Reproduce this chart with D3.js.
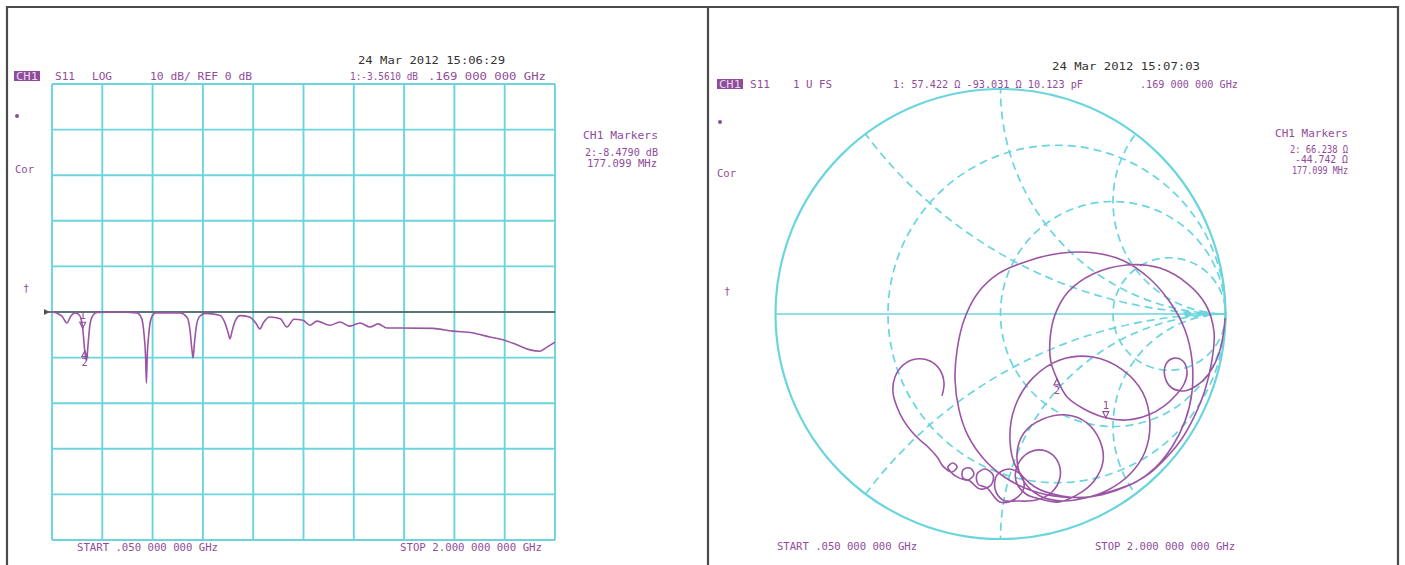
<!DOCTYPE html>
<html><head><meta charset="utf-8">
<script src="https://cdn.jsdelivr.net/npm/d3@7"></script>
<style>
body{margin:0;background:#fff;}
svg{display:block;}
text{font-family:"DejaVu Sans Mono",monospace;font-size:10.5px;}
</style>
</head><body>
<svg id="c" width="1405" height="565"></svg>
<script>
// ---- Channel 1, S11 log magnitude sweep ----
const freqGHz = [0.050,0.070,0.090,0.108,0.122,0.140,0.155,0.163,0.169,0.177,0.184,0.190,0.197,0.207,0.225,
  0.300,0.380,0.398,0.407,0.413,0.416,0.419,0.425,0.434,0.452,0.545,0.574,0.585,0.592,0.597,0.602,0.610,0.622,
  0.645,0.700,0.722,0.733,0.740,0.748,0.760,0.780,0.815,0.840,0.856,0.870,0.895,0.935,0.961,0.988,1.023,1.050,
  1.077,1.128,1.166,1.205,1.244,1.283,1.314,1.348,1.400,1.527,1.604,1.682,1.748,1.798,1.852,1.903,1.941,1.969,2.000];
const s11dB = [0,-0.3,-1.0,-2.4,-1.0,-0.2,-0.6,-1.6,-3.561,-8.479,-10.6,-7.0,-2.8,-0.9,-0.1,
  0,-0.2,-1.5,-5.0,-10.0,-15.6,-10.0,-5.0,-1.5,-0.2,-0.2,-1.2,-4.0,-8.0,-10.1,-7.0,-3.0,-1.0,
  -0.3,-0.7,-2.6,-4.6,-5.9,-4.2,-2.0,-0.8,-1.1,-2.4,-3.7,-2.3,-1.1,-1.5,-3.3,-1.6,-1.8,-2.9,
  -2.0,-2.9,-2.2,-3.1,-2.4,-3.3,-2.6,-3.5,-3.5,-3.6,-4.2,-4.6,-5.5,-6.1,-7.2,-8.3,-8.6,-7.7,-6.6];
const startGHz = 0.05, stopGHz = 2.0;
const refLevelDB = 0, dbPerDiv = 10, divisions = 10;
const markerIds = ["1", "2"];
const markerFreqGHz = [0.169, 0.177099];
const markerDB = [-3.561, -8.479];

// ---- Channel 1, S11 Smith chart (reflection coefficient) ----
const gammaRe = [0.998,0.989,0.967,0.922,0.869,0.816,0.762,0.731,0.736,0.771,0.811,0.829,0.816,0.780,0.727,0.656,0.562,
  0.468,0.371,0.296,0.251,0.224,0.220,0.242,0.300,0.411,0.562,0.709,0.833,0.913,0.949,0.940,0.909,0.860,0.802,0.744,
  0.664,0.553,0.420,0.273,0.131,0.011,-0.078,-0.144,-0.184,-0.202,-0.193,-0.162,-0.104,-0.011,0.122,0.273,0.420,0.549,
  0.660,0.753,0.820,0.851,0.851,0.820,0.762,0.687,0.602,
  0.509,0.398,0.273,0.153,0.069,0.042,0.064,0.144,0.264,0.411,0.544,0.633,0.664,0.642,0.576,0.478,0.376,
  0.273,0.176,0.100,0.073,0.104,0.189,0.296,0.384,0.442,0.456,0.416,0.340,0.256,
  0.176,0.113,0.069,0.078,0.131,0.202,0.256,0.264,0.229,0.158,
  0.073,0.011,-0.024,-0.016,0.038,0.091,0.104,0.064,-0.002,
  -0.060,-0.100,-0.104,-0.069,-0.033,-0.042,-0.091,
  -0.136,-0.167,-0.167,-0.136,-0.118,-0.144,-0.193,
  -0.216,-0.234,-0.211,-0.193,-0.216,-0.256,-0.278,-0.322,-0.358,-0.393,-0.429,-0.460,-0.478,-0.469,-0.433,-0.376,
  -0.313,-0.269,-0.251,-0.260];
const gammaIm = [-0.018,-0.098,-0.187,-0.271,-0.320,-0.342,-0.329,-0.280,-0.222,-0.196,-0.209,-0.258,-0.311,-0.360,-0.409,-0.449,-0.471,
  -0.461,-0.422,-0.369,-0.288,-0.213,-0.116,-0.004,0.098,0.178,0.218,0.204,0.133,0.040,-0.080,-0.204,-0.338,-0.458,-0.560,-0.631,
  -0.707,-0.769,-0.809,-0.813,-0.782,-0.720,-0.640,-0.542,-0.427,-0.293,-0.160,-0.027,0.089,0.178,0.236,0.271,0.271,0.236,
  0.160,0.053,-0.071,-0.204,-0.347,-0.476,-0.591,-0.684,-0.747,
  -0.782,-0.813,-0.809,-0.769,-0.680,-0.560,-0.413,-0.284,-0.204,-0.191,-0.249,-0.351,-0.484,-0.613,-0.711,-0.782,-0.818,
  -0.831,-0.809,-0.738,-0.627,-0.529,-0.467,-0.449,-0.484,-0.564,-0.653,-0.742,-0.804,-0.836,
  -0.822,-0.800,-0.742,-0.667,-0.613,-0.609,-0.658,-0.729,-0.791,-0.827,
  -0.831,-0.827,-0.778,-0.716,-0.689,-0.716,-0.773,-0.822,-0.836,
  -0.773,-0.756,-0.711,-0.689,-0.716,-0.760,-0.778,
  -0.742,-0.729,-0.693,-0.684,-0.711,-0.738,-0.724,
  -0.707,-0.680,-0.662,-0.680,-0.702,-0.676,-0.640,-0.591,-0.560,-0.524,-0.476,-0.413,-0.347,-0.280,-0.227,-0.200,
  -0.209,-0.249,-0.307,-0.364];
const z0 = 50;
const markerR = [57.422, 66.238];
const markerX = [-93.031, -44.742];
const resistanceCircles = [1/3, 1, 3];
const reactanceArcs = [0.5, 1, 2];
const axisDotsRe = [0.83, 0.91];

const CYAN = "#6bd5de", PURPLE = "#8f4c9b", TRACE = "#9a55a5", DARK = "#333";
const svg = d3.select("#c");

// frame
const frame = svg.append("g").attr("stroke", "#4a4a4a").attr("stroke-width", 2.2).attr("fill", "none");
frame.append("path").attr("d", "M7,565V7H1398V565");
frame.append("line").attr("x1", 708).attr("x2", 708).attr("y1", 7).attr("y2", 565);

function txt(g, x, y, s, len, color, anchor) {
  const t = g.append("text").attr("x", x).attr("y", y).attr("fill", color || PURPLE)
    .attr("text-anchor", anchor || "start").text(s);
  if (len) t.attr("textLength", len).attr("lengthAdjust", "spacingAndGlyphs");
  return t;
}
function chBox(g, x, y) {
  g.append("rect").attr("x", x).attr("y", y).attr("width", 26).attr("height", 10).attr("fill", PURPLE);
  txt(g, x + 2, y + 8.5, "CH1", 22, "#e6d6ee");
}

// ================= left: log magnitude =================
const L = svg.append("g");
const x = d3.scaleLinear([startGHz, stopGHz], [52, 555]);
const y = d3.scaleLinear([refLevelDB - dbPerDiv * divisions / 2, refLevelDB + dbPerDiv * divisions / 2], [540, 84]);
const fStep = (stopGHz - startGHz) / divisions;
const grid = L.append("g").attr("stroke", CYAN).attr("stroke-width", 1.9);
d3.range(divisions + 1).forEach(i => {
  grid.append("line").attr("x1", x(startGHz + i * fStep)).attr("x2", x(startGHz + i * fStep)).attr("y1", y.range()[1]).attr("y2", y.range()[0]);
  const d = y.domain()[0] + i * dbPerDiv;
  grid.append("line").attr("x1", x.range()[0]).attr("x2", x.range()[1]).attr("y1", y(d)).attr("y2", y(d));
});
// reference line and pointer
L.append("line").attr("x1", 46).attr("x2", x.range()[1]).attr("y1", y(refLevelDB)).attr("y2", y(refLevelDB))
  .attr("stroke", "#555").attr("stroke-width", 1.5);
L.append("path").attr("d", `M44,${y(refLevelDB) - 3}L50,${y(refLevelDB)}L44,${y(refLevelDB) + 3}Z`).attr("fill", "#555");

const lineData = freqGHz.map((f, i) => [f, s11dB[i]]);
L.append("path").datum(lineData)
  .attr("d", d3.line().x(d => x(d[0])).y(d => y(d[1])).curve(d3.curveMonotoneX))
  .attr("fill", "none").attr("stroke", TRACE).attr("stroke-width", 1.6);

// markers
markerIds.forEach((id, i) => {
  const mx = x(markerFreqGHz[i]), my = y(markerDB[i]);
  const g = L.append("g").attr("stroke", PURPLE).attr("fill", "none").attr("stroke-width", 1.1);
  if (i === 0) {
    g.append("path").attr("d", `M${mx - 3},${my - 6}L${mx + 3},${my - 6}L${mx},${my}Z`);
    txt(L, mx, my - 9, id, null, PURPLE, "middle").attr("font-size", 8);
  } else {
    g.append("path").attr("d", `M${mx - 3},${my + 6}L${mx + 3},${my + 6}L${mx},${my}Z`);
    txt(L, mx, my + 15, id, null, PURPLE, "middle").attr("font-size", 8);
  }
});

txt(L, 358, 64, "24 Mar 2012  15:06:29", 147, DARK);
chBox(L, 14, 71);
txt(L, 55, 80, "S11", 20);
txt(L, 92, 80, "LOG", 20);
txt(L, 150, 80, "10 dB/ REF 0 dB", 102);
txt(L, 350, 80, "1:-3.5610 dB", 68);
txt(L, 428, 80, ".169 000 000 GHz", 118);
L.append("circle").attr("cx", 17).attr("cy", 116).attr("r", 2).attr("fill", PURPLE);
txt(L, 15, 173, "Cor", 19);
txt(L, 23, 292, "†", null, PURPLE);
txt(L, 583, 139, "CH1 Markers", 75);
txt(L, 585, 156, "2:-8.4790 dB", 73);
txt(L, 587, 167, "177.099 MHz", 70);
txt(L, 77, 551, "START .050 000 000 GHz", 141);
txt(L, 400, 551, "STOP 2.000 000 000 GHz", 142);

// ================= right: Smith chart =================
const R = svg.append("g");
const sx = d3.scaleLinear([-1, 1], [775.5, 1225.5]);
const sy = d3.scaleLinear([-1, 1], [539, 89]);
const rad = (sx(1) - sx(-1)) / 2;
svg.append("defs").append("clipPath").attr("id", "unit")
  .append("circle").attr("cx", sx(0)).attr("cy", sy(0)).attr("r", rad);

const sg = R.append("g").attr("fill", "none").attr("stroke", CYAN);
// constant resistance circles
resistanceCircles.forEach(r => {
  sg.append("circle").attr("cx", sx(r / (1 + r))).attr("cy", sy(0)).attr("r", rad / (1 + r))
    .attr("stroke-width", 1.7).attr("stroke-dasharray", "8,5");
});
// constant reactance arcs
const arcs = sg.append("g").attr("clip-path", "url(#unit)");
reactanceArcs.forEach(xr => {
  [1, -1].forEach(s => {
    arcs.append("circle").attr("cx", sx(1)).attr("cy", sy(s / xr)).attr("r", rad / xr)
      .attr("stroke-width", 1.7).attr("stroke-dasharray", "8,5");
  });
});
sg.append("circle").attr("cx", sx(0)).attr("cy", sy(0)).attr("r", rad).attr("stroke-width", 2.2);
sg.append("line").attr("x1", sx(-1)).attr("x2", sx(1)).attr("y1", sy(0)).attr("y2", sy(0)).attr("stroke-width", 1.7);
axisDotsRe.forEach(u => R.append("circle").attr("cx", sx(u)).attr("cy", sy(0)).attr("r", 3).attr("fill", CYAN));

const gData = gammaRe.map((g, i) => [g, gammaIm[i]]);
R.append("path").datum(gData)
  .attr("d", d3.line().x(d => sx(d[0])).y(d => sy(d[1])).curve(d3.curveCatmullRom.alpha(0.5)))
  .attr("fill", "none").attr("stroke", TRACE).attr("stroke-width", 1.6);

// markers from stated impedance
markerIds.forEach((id, i) => {
  const zr = markerR[i] / z0, zi = markerX[i] / z0;
  const nr = zr - 1, ni = zi, dr = zr + 1, di = zi, den = dr * dr + di * di;
  const gr = (nr * dr + ni * di) / den, gi = (ni * dr - nr * di) / den;
  const mx = sx(gr), my = sy(gi);
  const g = R.append("g").attr("stroke", PURPLE).attr("fill", "none").attr("stroke-width", 1.1);
  if (i === 0) {
    g.append("path").attr("d", `M${mx - 3},${my - 6}L${mx + 3},${my - 6}L${mx},${my}Z`);
    txt(R, mx, my - 9, id, null, PURPLE, "middle").attr("font-size", 8);
  } else {
    g.append("path").attr("d", `M${mx - 3},${my + 6}L${mx + 3},${my + 6}L${mx},${my}Z`);
    txt(R, mx, my + 15, id, null, PURPLE, "middle").attr("font-size", 8);
  }
});

txt(R, 1052, 70, "24 Mar 2012  15:07:03", 148, DARK);
chBox(R, 717, 79);
txt(R, 750, 88, "S11", 20);
txt(R, 793, 88, "1 U FS", 39);
txt(R, 893, 88, "1: 57.422 \u03A9  -93.031 \u03A9  10.123 pF", 190);
txt(R, 1140, 88, ".169 000 000 GHz", 98);
R.append("circle").attr("cx", 720).attr("cy", 122).attr("r", 2).attr("fill", PURPLE);
txt(R, 717, 177, "Cor", 19);
txt(R, 724, 295, "†", null, PURPLE);
txt(R, 1275, 137, "CH1 Markers", 73);
txt(R, 1348, 153, "2: 66.238 \u03A9", 58, PURPLE, "end");
txt(R, 1348, 163, "-44.742 \u03A9", 53, PURPLE, "end");
txt(R, 1348, 174, "177.099 MHz", 56, PURPLE, "end");
txt(R, 777, 550, "START .050 000 000 GHz", 140);
txt(R, 1095, 550, "STOP 2.000 000 000 GHz", 140);
</script>
</body></html>
